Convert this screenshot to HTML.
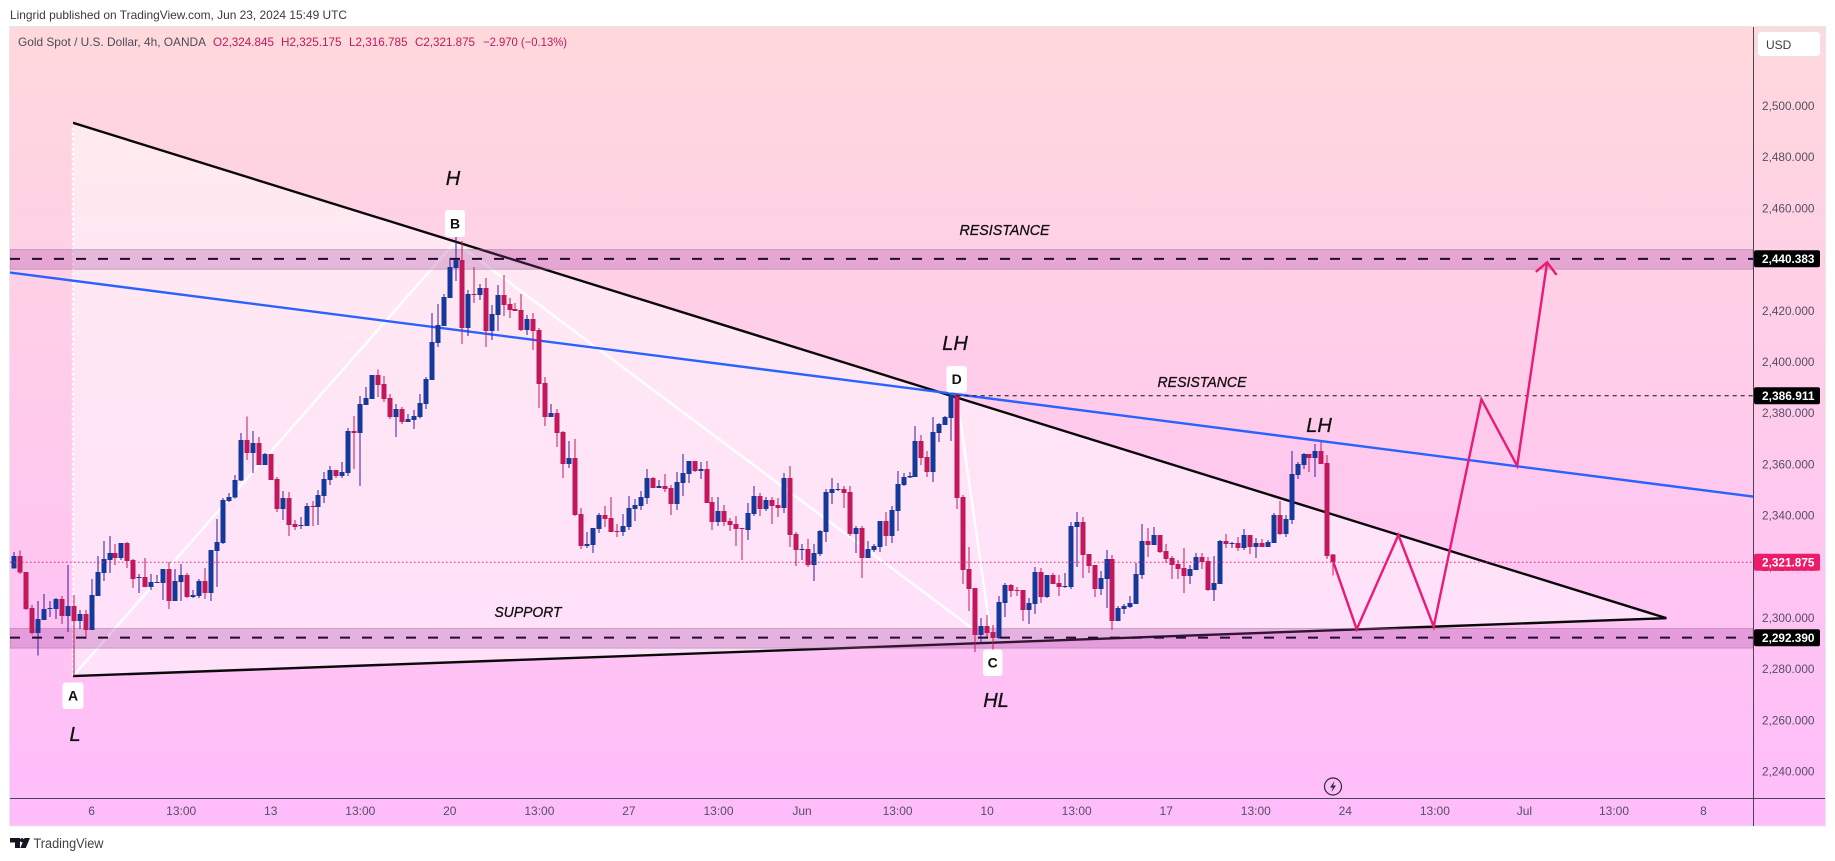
<!DOCTYPE html>
<html lang="en">
<head>
<meta charset="utf-8">
<title>Gold Spot / U.S. Dollar 4h chart</title>
<style>
html,body{margin:0;padding:0;background:#fff;width:1835px;height:861px;overflow:hidden}
svg{display:block;font-family:"Liberation Sans",sans-serif}
</style>
</head>
<body>
<svg id="chart" xmlns="http://www.w3.org/2000/svg" width="1835" height="861" viewBox="0 0 1835 861">
  <defs>
    <linearGradient id="bg" x1="0" y1="0" x2="0" y2="1">
      <stop offset="0" stop-color="#ffd9dc"/>
      <stop offset="1" stop-color="#ffbcfb"/>
    </linearGradient>
    <clipPath id="plot"><rect x="10" y="27" width="1743" height="771"/></clipPath>
  </defs>
  <text x="10" y="19" font-size="12" fill="#3a3a3f" textLength="337" lengthAdjust="spacingAndGlyphs">Lingrid published on TradingView.com, Jun 23, 2024 15:49 UTC</text>
  <rect x="9.5" y="26.5" width="1816" height="799.5" fill="url(#bg)" stroke="#e6e8ee" stroke-width="1"/>
  <g id="layer-bands" clip-path="url(#plot)"></g>
  <g id="layer-lines" clip-path="url(#plot)"></g>
  <g id="layer-candles" clip-path="url(#plot)"></g>
  <g id="layer-levels" clip-path="url(#plot)"></g>
  <g id="layer-forecast" clip-path="url(#plot)"></g>

  <g font-size="12">
    <text x="18" y="46" fill="#4e4a58" textLength="188" lengthAdjust="spacingAndGlyphs">Gold Spot / U.S. Dollar, 4h, OANDA</text>
    <text x="213" y="46" fill="#c2185b" textLength="61" lengthAdjust="spacingAndGlyphs">O2,324.845</text>
    <text x="281" y="46" fill="#c2185b" textLength="60.5" lengthAdjust="spacingAndGlyphs">H2,325.175</text>
    <text x="349" y="46" fill="#c2185b" textLength="58.5" lengthAdjust="spacingAndGlyphs">L2,316.785</text>
    <text x="415" y="46" fill="#c2185b" textLength="60" lengthAdjust="spacingAndGlyphs">C2,321.875</text>
    <text x="483" y="46" fill="#c2185b" textLength="84" lengthAdjust="spacingAndGlyphs">−2.970 (−0.13%)</text>
  </g>

  <g fill="#111" stroke="#111" stroke-width="0.3" font-style="italic">
    <text x="453" y="185" font-size="20" text-anchor="middle">H</text>
    <text x="75" y="741" font-size="20" text-anchor="middle">L</text>
    <text x="955" y="350" font-size="20" text-anchor="middle">LH</text>
    <text x="1319" y="432" font-size="20" text-anchor="middle">LH</text>
    <text x="996" y="707" font-size="20" text-anchor="middle">HL</text>
    <text x="528" y="617" font-size="14.5" text-anchor="middle" textLength="67" lengthAdjust="spacingAndGlyphs">SUPPORT</text>
    <text x="1004.5" y="235" font-size="14.5" text-anchor="middle" textLength="90" lengthAdjust="spacingAndGlyphs">RESISTANCE</text>
    <text x="1202" y="387" font-size="14.5" text-anchor="middle" textLength="89" lengthAdjust="spacingAndGlyphs">RESISTANCE</text>
  </g>

  <g font-size="14" font-weight="bold" text-anchor="middle" fill="#111">
    <g><rect x="445" y="210" width="20" height="27" rx="3" fill="#fff"/><text x="455" y="228.5">B</text></g>
    <g><rect x="62.5" y="682.5" width="21" height="26.5" rx="3" fill="#fff"/><text x="73" y="700.5">A</text></g>
    <g><rect x="946.5" y="366" width="20.5" height="26.5" rx="3" fill="#fff"/><text x="956.7" y="384">D</text></g>
    <g><rect x="983" y="649.5" width="19.5" height="26.5" rx="3" fill="#fff"/><text x="992.7" y="667.5">C</text></g>
  </g>

  <line x1="1753.5" y1="27" x2="1753.5" y2="826" stroke="#4a4358" stroke-width="1"/>
  <line x1="10" y1="798.5" x2="1825" y2="798.5" stroke="#4a4358" stroke-width="1"/>
  <g id="price-ticks"></g>
  <g id="time-ticks"></g>
  <g id="price-tags"></g>

  <g>
    <rect x="1757.5" y="31.5" width="63" height="25" rx="4" fill="#fff" stroke="#e6e4f0"/>
    <text x="1766" y="49" font-size="12" fill="#3c3c44">USD</text>
  </g>

  <g>
    <circle cx="1333" cy="786.5" r="8.5" fill="none" stroke="#2a2a35" stroke-width="1.2"/>
    <path d="M1334.5 781 L1330 787.5 L1332.8 787.5 L1331.5 792 L1336 785.5 L1333.2 785.5 Z" fill="#2a2a35"/>
  </g>

  <g>
    <path d="M10 838 H20 V848 H15 V842.5 H10 Z M24.5 838 H30 L25.8 848 H20.3 Z" fill="#131722"/>
    <circle cx="22" cy="840.2" r="2.1" fill="#131722"/>
    <text x="33.5" y="848" font-size="13.5" fill="#3f4248" textLength="70" lengthAdjust="spacingAndGlyphs">TradingView</text>
  </g>
</svg>

<script>
// ---------- chart data (4h candles) ----------
const opens = [
2319.4,2324.3,2318.1,2304,2294.2,2299.4,2303.6,2303.6,2307.5,2300.9,
2304.8,2298.9,2301.7,2295.4,2308.7,2317.7,2322.8,2325.5,2323.5,2329.4,
2322.8,2315.7,2316.1,2312.2,2313.8,2313.8,2319.2,2306.7,2314.2,2316.9,
2308.3,2308.7,2314.5,2309.9,2326.3,2329.4,2345.8,2347.1,2353.7,2369.6,
2364.6,2368.4,2359.9,2364.1,2354.4,2342.7,2347,2336.8,2336,2336,
2343.8,2343.4,2347.7,2354,2357.9,2355.6,2356.7,2373.1,2372.3,2383.2,
2385.7,2395,2391.4,2386,2378.6,2381.7,2376.7,2377.4,2378.6,2383.6,
2393,2407.5,2414.1,2425,2436.8,2439.9,2413.3,2426.6,2426.2,2429,
2412.2,2418.5,2426.3,2422.8,2420.8,2420.4,2412.6,2416.9,2412.6,2391.9,
2378.6,2380.2,2372.8,2360.3,2362.6,2340.7,2328.2,2328.6,2334.9,2340.3,
2339.2,2334,2333.7,2335.6,2342.7,2343.8,2347,2354.8,2350.9,2351.7,
2350.9,2344.6,2352.8,2356.3,2361.4,2357.5,2358.3,2345.4,2337.6,2341.9,
2338,2336.8,2335.2,2334.5,2340.7,2347.8,2342.7,2346.2,2344.2,2343,
2354.8,2332.9,2326.7,2327,2320.8,2325.1,2333.7,2348.9,2350.1,2350.5,
2349.3,2332.9,2335.2,2323.5,2326.7,2327.8,2338,2332.1,2341.9,2352,
2354.9,2355.2,2369.2,2363,2357.1,2372.3,2375.5,2378.2,2387.2,2347.4,
2319.2,2311.8,2293.4,2297,2294.6,2292.3,2305.9,2313,2311,2311,
2303.2,2305.5,2318,2308.3,2316.9,2313.8,2312.2,2312.2,2335.6,2337.6,
2325.1,2320.8,2311.4,2315.3,2323.1,2298.9,2303.6,2304.4,2305.5,2316.9,
2330.2,2328.6,2332.5,2326.3,2323.5,2321.2,2319.6,2316.5,2318.8,2323.9,
2322.3,2311,2313.3,2330.1,2329,2329.4,2327.4,2332.5,2327.8,2329.4,
2327.8,2329.4,2340.3,2332.9,2338.3,2355.9,2359.8,2364.1,2362.6,2365.3,2360.6,2324.845];
const highs = [
2325.9,2326.4,2318.1,2305.2,2306.7,2309.5,2306.7,2307.9,2308.7,2320.8,
2309.1,2303.2,2303.2,2315.3,2324.3,2330.2,2332.1,2329,2329.4,2329.8,
2323.1,2317.3,2323.5,2317.3,2316.9,2319.2,2322,2319.2,2321.2,2317.7,
2311,2315.3,2319.6,2326.7,2338.8,2347,2348.9,2355.9,2372.4,2378.7,
2373.1,2370.8,2364.6,2364.1,2355.2,2349.7,2349.3,2338.4,2339.5,2345,
2345.8,2350.1,2357.1,2359.5,2357.9,2361,2374.3,2379,2386.8,2390.3,
2395,2397.2,2394.6,2387.6,2383.6,2382.5,2379.8,2381.3,2387.6,2394.2,
2419.2,2422.7,2426.6,2440.7,2450,2447.3,2428.2,2437.2,2430.5,2432.9,
2422.4,2430.2,2434.1,2425,2423.1,2426.6,2418.5,2419.2,2413.4,2394.2,
2383.6,2381.7,2373.1,2369.2,2370,2343,2333.7,2335.2,2341.1,2343.8,
2347.4,2336.8,2340.7,2347.8,2346.6,2349.7,2358.3,2355.2,2354,2356.3,
2352,2357.1,2364.2,2361.4,2361.4,2361,2361.4,2347.4,2347.4,2344.2,
2339.2,2339.9,2335.2,2345,2351.7,2348.9,2347.4,2347.4,2347,2356.7,
2359.5,2333.7,2329,2331,2329,2334.5,2350.5,2354.8,2352.8,2351.6,
2351.6,2336,2336,2330.2,2329,2338,2341.5,2343.8,2357.5,2356.7,
2357.1,2375,2371.6,2365.3,2378.6,2376.3,2379,2387.2,2387.6,2348.1,
2327.8,2311.8,2300,2301.3,2297.4,2308.7,2313.8,2313.4,2312.2,2311,
2307.9,2320,2319.6,2316.9,2317.7,2316.9,2317.7,2337.6,2341.5,2339.5,
2325.1,2320.8,2318.4,2326.7,2324.7,2304.8,2305.5,2308.7,2321.5,2336.8,
2335.2,2335.6,2332.5,2329,2324.3,2322.8,2327.4,2320.8,2325.5,2325.5,
2323.9,2324.3,2330.5,2332.9,2329.7,2331.7,2334.8,2332.5,2331.3,2330.9,
2330.5,2341.1,2345.8,2340.3,2365.3,2361,2364.5,2364.1,2368,2368.8,2363.7,2325.175];
const lows = [
2319.4,2317.3,2303.2,2293.6,2285.4,2299.3,2300.5,2299.7,2297.8,2294.6,
2277.2,2295.8,2291.9,2295.4,2308.7,2314.5,2317.7,2320.8,2322.8,2319.6,
2311.8,2309.9,2312.2,2311,2313.8,2307.1,2303.6,2306.7,2306.7,2307.9,
2307.9,2307.9,2307.5,2306.7,2312.2,2329,2345.4,2346.7,2353.7,2361.8,
2356.7,2359.9,2359.9,2354,2341.5,2338.4,2332.1,2334.5,2334.9,2336,
2336,2336.4,2345,2352,2354.8,2354.8,2355.6,2358.3,2351.7,2383.2,
2385.7,2386.4,2384.4,2377.8,2370.8,2375.9,2376.7,2373.9,2378,2381.7,
2393,2406,2414.1,2425,2431.7,2407.1,2410.2,2423.1,2424.3,2406,
2408.7,2412.2,2418,2417.3,2420,2412.2,2410.6,2404.8,2382.1,2375.1,
2378.6,2366.9,2354.8,2358.7,2339.9,2327,2327.4,2325.5,2333.3,2335.6,
2333.7,2331.7,2332.1,2334.5,2338,2342.3,2344.6,2350.9,2350.9,2349.3,
2340.3,2342.3,2347.8,2352.8,2357.1,2354.4,2345,2334.5,2336,2336,
2334,2328.2,2322.7,2330.5,2339.9,2339.9,2341.9,2336.8,2339.5,2341.1,
2327.9,2320.4,2322.8,2320,2314.5,2324.3,2329.8,2344.6,2349.7,2343.1,
2332.1,2325.5,2315.7,2323.5,2325.9,2325.9,2328.2,2329.4,2334.1,2351.6,
2354.8,2355.2,2359.9,2355.2,2353.2,2368.8,2375.5,2369.2,2342.7,2313.4,
2302.8,2286.8,2290.3,2291.9,2287.6,2291.9,2300.5,2308.3,2308.7,2298.9,
2297.7,2301.7,2305.9,2307.9,2313.4,2308.7,2311.8,2311.4,2320,2315.7,
2317.7,2308.3,2309.1,2304,2295.4,2298.9,2301.7,2304,2305.5,2315.3,
2323.9,2328.6,2325.5,2321.5,2315.3,2315.3,2309.8,2313.3,2318.8,2319.2,
2310.6,2306.7,2313.3,2327.4,2327.4,2326.2,2326.6,2325.1,2323.5,2327.8,
2327.8,2329.4,2332.5,2331.7,2336.8,2354.4,2358.3,2357.1,2355.1,2360.2,2323.1,2316.785];
const closes = [
2324.3,2317.8,2303.6,2294.2,2299.7,2303.6,2304,2307.5,2300.9,2304.8,
2298.9,2301.7,2295.4,2309.1,2318.1,2323.1,2325.5,2323.5,2329.4,2322.4,
2315.3,2316.1,2312.2,2314.2,2314.2,2319.2,2306.7,2314.5,2316.9,2308.3,
2309.1,2314.5,2309.9,2326.7,2329.8,2346.2,2347.4,2354,2369.6,2364.6,
2368.4,2359.9,2364.1,2354,2342.7,2347,2336.4,2335.6,2336.4,2343.8,
2343.4,2348.1,2354.4,2357.9,2355.6,2357.1,2373.1,2372.3,2383.6,2386,
2395,2391,2385.7,2378.6,2381.7,2376.7,2377.8,2379,2384,2393.4,
2407.9,2414.5,2425.4,2437.2,2439.9,2413.3,2426.6,2426.2,2429,2412.2,
2418.9,2426.3,2422.4,2420.4,2420,2412.6,2416.9,2412.2,2391.5,2378.6,
2380.2,2372.3,2360.3,2362.6,2340.3,2328.2,2329,2335.2,2340.3,2338.8,
2333.7,2333.7,2336,2343,2344.2,2347.4,2354.8,2350.9,2351.7,2350.4,
2344.6,2353.2,2356.7,2361.4,2357.5,2358.3,2345,2337.6,2341.9,2337.6,
2336.4,2334.9,2334.9,2341.1,2347.8,2342.7,2346.2,2343.8,2343,2354.8,
2332.5,2326.7,2327,2320.8,2325.5,2334.1,2349.3,2350.5,2350.5,2348.9,
2332.9,2335.2,2323.5,2327,2328.2,2338,2332.1,2342.3,2352.4,2355.2,
2355.6,2369.2,2362.6,2357.1,2372.7,2375.9,2378.6,2387.2,2347,2318.8,
2311.4,2293.4,2297,2294.2,2292.3,2306.3,2313,2310.6,2310.6,2303.2,
2305.9,2318,2308.3,2316.9,2313.4,2312.2,2312.6,2336,2337.6,2324.7,
2320.4,2311.4,2315.7,2323.1,2298.9,2304,2304.8,2305.9,2317.3,2330.2,
2328.6,2332.5,2325.9,2323.1,2320.8,2319.2,2316.5,2319.2,2323.9,2321.9,
2311,2313.7,2330.1,2329,2329.4,2327.4,2332.5,2327.8,2329.4,2327.8,
2329.7,2340.3,2332.9,2338.7,2356.3,2360.2,2364.1,2362.6,2365.3,2360.2,2324.3,2321.875];

const priceTicks = [2500,2480,2460,2440,2420,2400,2380,2360,2340,2320,2300,2280,2260,2240];
const timeLabels = ["6","13:00","13","13:00","20","13:00","27","13:00","Jun","13:00","10","13:00","17","13:00","24","13:00","Jul","13:00","8"];
const timeLabelBars = [13,28,43,58,73,88,103,118,132,148,163,178,193,208,223,238,253,268,283];

// drawing anchors: bar index and price
const upperTrendBars = [9.88,276.8];
const upperTrendPrices = [2493.5,2300];
const lowerTrendBars = [9.88,276.8];
const lowerTrendPrices = [2277.4,2300];
const blueTrendBars = [-0.67,291.3];
const blueTrendPrices = [2435,2347.5];
const patternBars = [9.88,73.9,163.8,157.9];
const patternPrices = [2277.4,2446.9,2290.3,2387.2];
const forecastBars = [221,224.9,231.9,237.8,245.8,251.8,256.8];
const forecastPrices = [2321.875,2295.7,2332.5,2296.7,2385.5,2359.5,2439];
const arrowBars = [254.9,256.8,258.4];
const arrowPrices = [2435.3,2439,2434.1];
const upperZonePrices = [2444.0,2436.3];
const lowerZonePrices = [2296,2288.3];
const upperLevel = 2440.383;
const middleLevel = 2386.911;
const lowerLevel = 2292.390;
const lastPrice = 2321.875;
const middleLevelStartBar = 157.9;

// ---------- axis functions ----------
const xOf = b => 14 + 5.97 * b;
const yOf = p => 106.2 + (2500 - p) * 2.56;
const fmt = p => p.toFixed(3).replace(/^(\d)(\d{3})/, '$1,$2');
const NS = 'http://www.w3.org/2000/svg';
const PLOT_L = 10, PLOT_R = 1753;

function mk(tag, parent, attrs) {
  const e = document.createElementNS(NS, tag);
  for (const k in attrs) e.setAttribute(k, attrs[k]);
  parent.appendChild(e);
  return e;
}
function pts(bars, prices) {
  return bars.map((b, i) => xOf(b).toFixed(1) + ',' + yOf(prices[i]).toFixed(1)).join(' ');
}
const bands = document.getElementById('layer-bands');
const lines = document.getElementById('layer-lines');
const cand = document.getElementById('layer-candles');
const levels = document.getElementById('layer-levels');
const forecast = document.getElementById('layer-forecast');

// triangle fill
const tri = mk('polygon', lines, {
  points: pts([upperTrendBars[0], upperTrendBars[1], lowerTrendBars[0]], [upperTrendPrices[0], upperTrendPrices[1], lowerTrendPrices[0]]),
  fill: '#ffffff', 'fill-opacity': '0.5'
});



// support and resistance zones
const zoneUp = mk('rect', bands, {
  x: PLOT_L, y: yOf(upperZonePrices[0]), width: PLOT_R - PLOT_L,
  height: yOf(upperZonePrices[1]) - yOf(upperZonePrices[0]),
  fill: '#a0349c', 'fill-opacity': '0.27', stroke: '#8a6a8c', 'stroke-opacity': '0.4'
});


const zoneLow = mk('rect', bands, {
  x: PLOT_L, y: yOf(lowerZonePrices[0]), width: PLOT_R - PLOT_L,
  height: yOf(lowerZonePrices[1]) - yOf(lowerZonePrices[0]),
  fill: '#a0349c', 'fill-opacity': '0.27', stroke: '#8a6a8c', 'stroke-opacity': '0.4'
});


lines.parentNode.insertBefore(lines, bands);

// triangle left edge
const edge = mk('line', lines, {
  x1: xOf(upperTrendBars[0]), y1: yOf(upperTrendPrices[0]),
  x2: xOf(lowerTrendBars[0]), y2: yOf(lowerTrendPrices[0]),
  stroke: '#fff', 'stroke-width': '2.4', 'stroke-dasharray': '2.5 2.5'
});



// ABCD white pattern
const pattern = mk('polyline', lines, {
  points: pts(patternBars, patternPrices), fill: 'none',
  stroke: '#fff', 'stroke-width': '2.4', 'stroke-opacity': '0.95'
});



// trend lines
const upperTrend = mk('polyline', lines, {
  points: pts(upperTrendBars, upperTrendPrices), fill: 'none', stroke: '#0a0a0a', 'stroke-width': '2.4'
});


const lowerTrend = mk('polyline', lines, {
  points: pts(lowerTrendBars, lowerTrendPrices), fill: 'none', stroke: '#0a0a0a', 'stroke-width': '2.4'
});


const blueTrend = mk('polyline', lines, {
  points: pts(blueTrendBars, blueTrendPrices), fill: 'none', stroke: '#2962ff', 'stroke-width': '2.4'
});



// candles
const UP_BODY = '#15399b', UP_WICK = '#38189e', DOWN = '#c2185b';
closes.forEach((c, i) => {
  const o = opens[i], up = c >= o;
  const cx = Math.round(xOf(i));
  const g = mk('g', cand, {});
  
  
  const yH = yOf(highs[i]), yL = yOf(lows[i]);
  mk('rect', g, { x: cx - 0.5, y: yH.toFixed(1), width: 1, height: Math.max(1, yL - yH).toFixed(1), fill: up ? UP_WICK : DOWN, 'shape-rendering': 'crispEdges' });
  const top = yOf(Math.max(o, c)), bot = yOf(Math.min(o, c));
  mk('rect', g, { x: cx - 2.5, y: top.toFixed(1), width: 5, height: Math.max(1, bot - top).toFixed(1), fill: up ? UP_BODY : DOWN, 'shape-rendering': 'crispEdges' });
});

// horizontal levels
const dashUp = mk('line', levels, { x1: PLOT_L, x2: PLOT_R, y1: yOf(upperLevel), y2: yOf(upperLevel), stroke: '#230a35', 'stroke-width': '2', 'stroke-dasharray': '10 12' });


const dashLow = mk('line', levels, { x1: PLOT_L, x2: PLOT_R, y1: yOf(lowerLevel), y2: yOf(lowerLevel), stroke: '#230a35', 'stroke-width': '2', 'stroke-dasharray': '10 12' });


const dashMid = mk('line', levels, { x1: xOf(middleLevelStartBar), x2: PLOT_R, y1: yOf(middleLevel), y2: yOf(middleLevel), stroke: '#111', 'stroke-width': '1', 'stroke-dasharray': '4 4' });


const lastLine = mk('line', levels, { x1: PLOT_L, x2: PLOT_R, y1: yOf(lastPrice), y2: yOf(lastPrice), stroke: '#f0186e', 'stroke-width': '1', 'stroke-dasharray': '1.5 2.5' });



// forecast path
const fPath = mk('polyline', forecast, { points: pts(forecastBars, forecastPrices), fill: 'none', stroke: '#ea1a78', 'stroke-width': '2.4', 'stroke-linejoin': 'miter' });


const fArrow = mk('polyline', forecast, { points: pts(arrowBars, arrowPrices), fill: 'none', stroke: '#ea1a78', 'stroke-width': '2.4' });



// price ticks
const priceG = document.getElementById('price-ticks');


priceTicks.forEach(p => {
  const t = mk('text', priceG, { x: 1762, y: (yOf(p) + 3.8).toFixed(1), 'font-size': '12', fill: '#564f63', textLength: '52.5', lengthAdjust: 'spacingAndGlyphs' });
  
  
  t.textContent = fmt(p);
});

// time ticks
const timeG = document.getElementById('time-ticks');


timeLabels.forEach((l, i) => {
  const t = mk('text', timeG, { x: xOf(timeLabelBars[i]).toFixed(1), y: 815, 'font-size': '12', fill: '#564f63', 'text-anchor': 'middle' });
  
  
  t.textContent = l;
});

// price tags
const tagG = document.getElementById('price-tags');


[upperLevel, middleLevel, lowerLevel, lastPrice].forEach(p => {
  const cy = yOf(p);
  const g = mk('g', tagG, {});
  
  
  mk('rect', g, { x: 1754, y: (cy - 8.5).toFixed(1), width: 66, height: 17, rx: 2, fill: p === lastPrice ? '#ec1c6a' : '#000' });
  const t = mk('text', g, { x: 1762, y: (cy + 4.2).toFixed(1), 'font-size': '12', 'font-weight': 'bold', fill: '#fff', textLength: '52.5', lengthAdjust: 'spacingAndGlyphs' });
  t.textContent = fmt(p);
});
</script>
</body>
</html>
